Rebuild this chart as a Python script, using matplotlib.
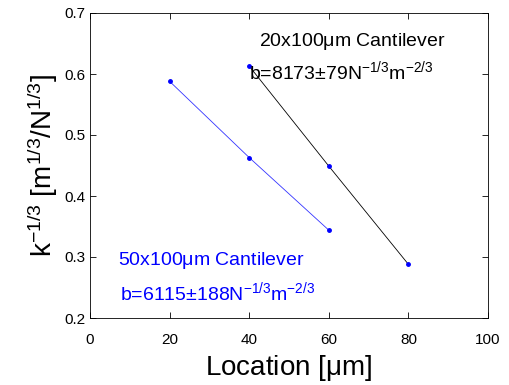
import matplotlib
matplotlib.use('Agg')
import matplotlib.pyplot as plt

plt.rcParams['font.family'] = ['Liberation Sans', 'DejaVu Sans']
plt.rcParams['mathtext.fontset'] = 'custom'
plt.rcParams['mathtext.rm'] = 'Liberation Sans'
plt.rcParams['mathtext.it'] = 'Liberation Sans'
plt.rcParams['mathtext.default'] = 'regular'

# cantilever data
x_50 = [20, 40, 60]
k_50 = [0.588, 0.463, 0.344]
x_20 = [40, 60, 80]
k_20 = [0.613, 0.449, 0.288]

xticks = [0, 20, 40, 60, 80, 100]
yticks = [0.2, 0.3, 0.4, 0.5, 0.6, 0.7]

fig = plt.figure(figsize=(5.09, 3.85), dpi=100)
ax = fig.add_axes([90/509, 1-318/385, 398/509, 305/385])

ax.plot(x_50, k_50, color='#3333ff', lw=0.6, marker='.', ms=5, mfc='blue', mec='blue')
ax.plot(x_20, k_20, color='black', lw=0.6, marker='.', ms=5, mfc='blue', mec='blue')

ax.set_xlim(0, 100)
ax.set_ylim(0.2, 0.7)
ax.set_xticks(xticks)
ax.set_yticks(yticks)
ax.set_xticklabels([str(t) for t in xticks])
ax.set_yticklabels(['%.1f' % t for t in yticks])
ax.tick_params(direction='in', top=True, right=True, length=4, labelsize=11, width=0.6)
ax.tick_params(axis='x', pad=11)
for s in ax.spines.values():
    s.set_linewidth(0.6)

ax.set_xlabel(r'Location [$\mu$m]', fontsize=20, labelpad=4)
ax.set_ylabel(r'k$^{-1/3}$ [m$^{1/3}$/N$^{1/3}$]', fontsize=20, labelpad=3)

ax.text(0.425, 0.905, r'20x100$\mu$m Cantilever', transform=ax.transAxes,
        fontsize=14, color='black', va='center', ha='left')
ax.text(0.40, 0.81, r'b=8173$\pm$79N$^{-1/3}$m$^{-2/3}$', transform=ax.transAxes,
        fontsize=14, color='black', va='center', ha='left')
ax.text(0.07, 0.19, r'50x100$\mu$m Cantilever', transform=ax.transAxes,
        fontsize=14, color='blue', va='center', ha='left')
ax.text(0.075, 0.085, r'b=6115$\pm$188N$^{-1/3}$m$^{-2/3}$', transform=ax.transAxes,
        fontsize=14, color='blue', va='center', ha='left')

fig.savefig('out.png', dpi=100)
